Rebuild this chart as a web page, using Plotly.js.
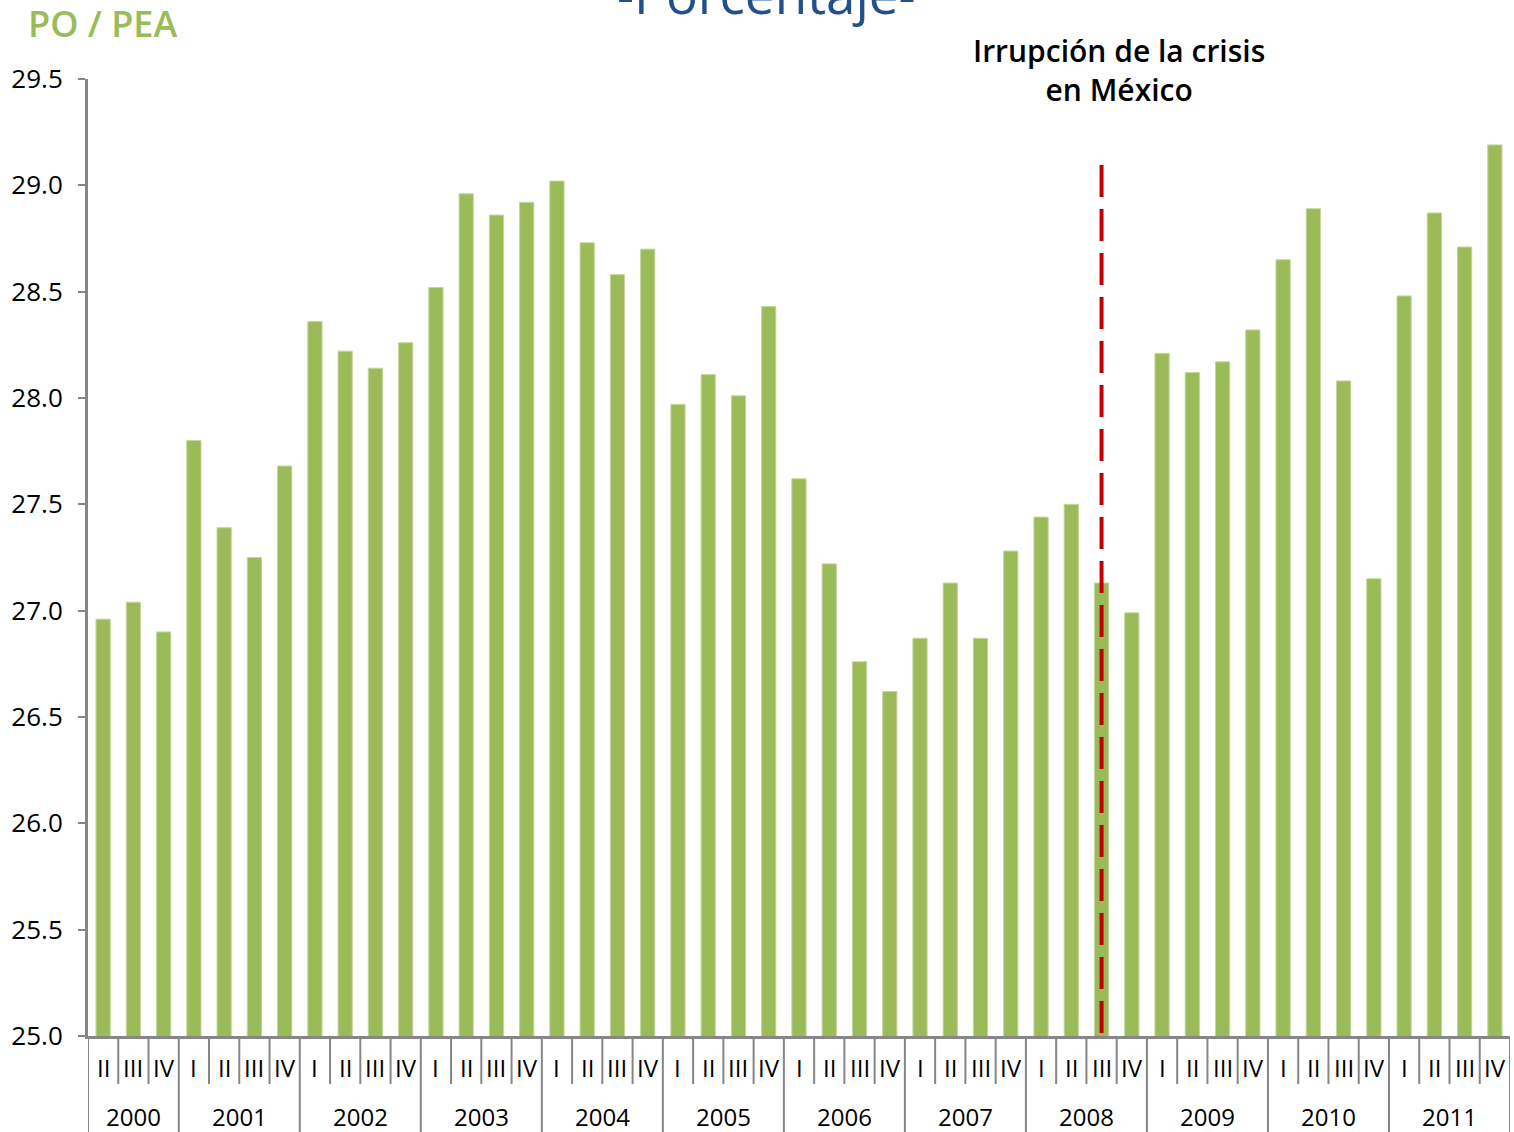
<!DOCTYPE html>
<html>
<head>
<meta charset="utf-8">
<script src="https://cdn.plot.ly/plotly-3.0.1.min.js"></script>
<style>html,body{margin:0;padding:0;background:#fff;}#chart{width:1514px;height:1132px;}</style>
</head>
<body>
<div id="chart"></div>
<script>
// ---- Data ----
const yearOf = [
  '2000','2000','2000',
  '2001','2001','2001','2001',
  '2002','2002','2002','2002',
  '2003','2003','2003','2003',
  '2004','2004','2004','2004',
  '2005','2005','2005','2005',
  '2006','2006','2006','2006',
  '2007','2007','2007','2007',
  '2008','2008','2008','2008',
  '2009','2009','2009','2009',
  '2010','2010','2010','2010',
  '2011','2011','2011','2011'
];
const quarterOf = [
  'II','III','IV',
  'I','II','III','IV',
  'I','II','III','IV',
  'I','II','III','IV',
  'I','II','III','IV',
  'I','II','III','IV',
  'I','II','III','IV',
  'I','II','III','IV',
  'I','II','III','IV',
  'I','II','III','IV',
  'I','II','III','IV',
  'I','II','III','IV'
];
const poPea = [
  26.96, 27.04, 26.90,
  27.80, 27.39, 27.25, 27.68,
  28.36, 28.22, 28.14, 28.26,
  28.52, 28.96, 28.86, 28.92,
  29.02, 28.73, 28.58, 28.70,
  27.97, 28.11, 28.01, 28.43,
  27.62, 27.22, 26.76, 26.62,
  26.87, 27.13, 26.87, 27.28,
  27.44, 27.50, 27.13, 26.99,
  28.21, 28.12, 28.17, 28.32,
  28.65, 28.89, 28.08, 27.15,
  28.48, 28.87, 28.71, 29.19
];
const crisisPeriod = '2008 III';
const chartTitle = '-Porcentaje-';
const seriesLabel = 'PO / PEA';
const crisisLabel = 'Irrupción de la crisis<br>en México';

// ---- Build ----
const cats = yearOf.map((y, i) => y + ' ' + quarterOf[i]);
const n = cats.length;
const GRAY = '#868686';
const FONT = 'Open Sans, sans-serif';

const shapes = [];
const annotations = [];

// quarter / year separators below the axis
for (let b = 0; b <= n; b++) {
  const isYearEdge = (b === 0 || b === n || yearOf[b] !== yearOf[b - 1]);
  shapes.push({
    type: 'line', xref: 'x', yref: 'paper',
    x0: b - 0.5, x1: b - 0.5, y0: 0, y1: isYearEdge ? -0.13 : -0.0502,
    line: {color: GRAY, width: 2}, layer: 'above'
  });
}
// quarter labels
cats.forEach((c, i) => {
  annotations.push({
    xref: 'x', yref: 'paper', x: i, y: -0.0334, yanchor: 'middle', xanchor: 'center',
    text: quarterOf[i], showarrow: false, font: {family: FONT, size: 24, color: '#000'}
  });
});
// year labels
const uniqYears = [...new Set(yearOf)];
uniqYears.forEach(y => {
  const first = yearOf.indexOf(y), last = yearOf.lastIndexOf(y);
  annotations.push({
    xref: 'x', yref: 'paper', x: (first + last) / 2, y: -0.0846, yanchor: 'middle', xanchor: 'center',
    text: y, showarrow: false, font: {family: FONT, size: 24, color: '#000'}
  });
});

// crisis line
const ci = cats.indexOf(crisisPeriod);
shapes.push({
  type: 'line', xref: 'x', yref: 'paper', x0: ci, x1: ci, y0: 0.9101, y1: 0,
  line: {color: '#C00000', width: 4, dash: '32px,12px'}, layer: 'above'
});

annotations.push({
  xref: 'paper', yref: 'paper', x: 0.725, y: 1.0094, xanchor: 'center', yanchor: 'middle',
  text: crisisLabel, showarrow: false, align: 'center',
  font: {family: FONT, size: 30, color: '#000', weight: 600}
});
annotations.push({
  xref: 'paper', yref: 'paper', x: 0.4768, y: 1.0895, xanchor: 'center', yanchor: 'middle',
  text: chartTitle, showarrow: false,
  font: {family: FONT, size: 53, color: '#23508A'}
});
annotations.push({
  xref: 'paper', yref: 'paper', x: -0.0436, y: 1.0575, xanchor: 'left', yanchor: 'middle',
  text: seriesLabel, showarrow: false,
  font: {family: FONT, size: 36, color: '#9BBB59', weight: 600}
});

const trace = {
  type: 'bar', x: cats, y: poPea,
  marker: {color: '#9BBB59', line: {color: '#C3D69B', width: 1}},
  hoverinfo: 'x+y'
};

const layout = {
  width: 1514, height: 1132,
  margin: {l: 88, r: 4, t: 79, b: 96, pad: 0},
  paper_bgcolor: '#fff', plot_bgcolor: '#fff',
  showlegend: false,
  bargap: 0.53,
  xaxis: {
    type: 'category', range: [-0.5, n - 0.5], showticklabels: false, ticks: '',
    showline: true, linecolor: GRAY, linewidth: 3, showgrid: false, zeroline: false,
    automargin: false, fixedrange: true
  },
  yaxis: {
    range: [25, 29.5], dtick: 0.5, tick0: 25, tickformat: '.1f',
    ticks: 'outside', ticklen: 7, tickwidth: 2, tickcolor: GRAY,
    showline: true, linecolor: GRAY, linewidth: 3, showgrid: false, zeroline: false,
    tickfont: {family: FONT, size: 26, color: '#000'}, ticklabelstandoff: 10,
    automargin: false, fixedrange: true
  },
  shapes: shapes,
  annotations: annotations,
  font: {family: FONT}
};

Plotly.newPlot('chart', [trace], layout, {displayModeBar: false, staticPlot: true});
</script>
</body>
</html>
